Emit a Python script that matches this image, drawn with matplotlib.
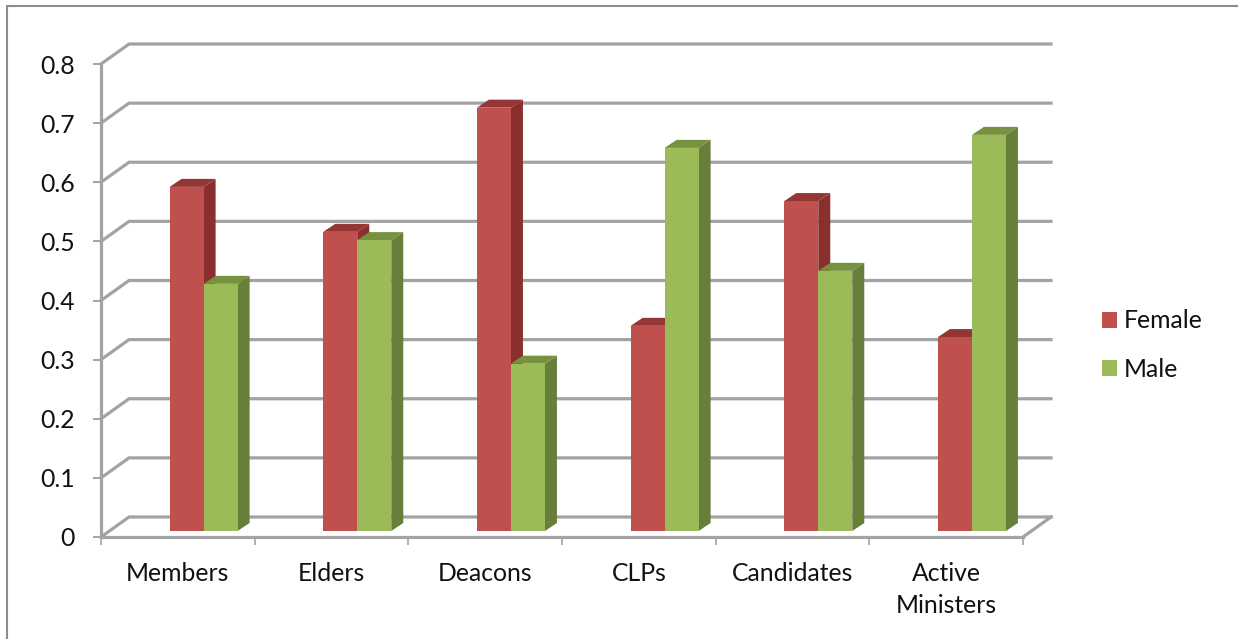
import matplotlib
matplotlib.use("Agg")
import matplotlib.pyplot as plt
from matplotlib.patches import Polygon, Patch

categories = ["Members", "Elders", "Deacons", "CLPs", "Candidates", "Active\nMinisters"]
female = [0.582, 0.506, 0.716, 0.347, 0.558, 0.328]
male = [0.418, 0.492, 0.283, 0.648, 0.44, 0.67]
y_ticks = [0, 0.1, 0.2, 0.3, 0.4, 0.5, 0.6, 0.7, 0.8]
y_labels = ["0", "0.1", "0.2", "0.3", "0.4", "0.5", "0.6", "0.7", "0.8"]

W, H = 1238, 639
GRID = "#A3A3A3"
plt.rcParams["font.family"] = ["Lato", "DejaVu Sans"]
FS = 17.8
fig = plt.figure(figsize=(W / 100, H / 100), dpi=100)
L, R, T, B = 101, 1023, 64, 537
ax = fig.add_axes([L / W, 1 - B / H, (R - L) / W, (B - T) / H])
ax.set_xlim(0, 6)
ax.set_ylim(0, 0.8)
ax.patch.set_alpha(0)

px_x = 6 / (R - L)
px_y = 0.8 / (B - T)
wall_dx, wall_dy = 28 * px_x, 20 * px_y
bar_dx, bar_dy = 12 * px_x, 8 * px_y
base = 6 * px_y
bar_w = 34 * px_x
start = 68.6 * px_x

# back wall and floor
for v in y_ticks:
    ax.plot([0, wall_dx, 6 + wall_dx], [v, v + wall_dy, v + wall_dy], color=GRID,
            lw=2.3, clip_on=False, zorder=1, solid_joinstyle="miter")
ax.plot([6 + wall_dx, 6], [wall_dy, 0], color=GRID, lw=2.3, clip_on=False, zorder=1)

series = [
    (female, "#C0504D", "#8A2F2D", "#933634", 0),
    (male, "#9BBB59", "#677F3A", "#76923F", 1),
]
z = 3
for i in range(len(categories)):
    for vals, col, side, top, k in series:
        x0 = i + start + k * bar_w
        x1 = x0 + bar_w
        h = base + vals[i]
        ax.add_patch(Polygon([(x1, base), (x1 + bar_dx, base + bar_dy),
                              (x1 + bar_dx, h + bar_dy), (x1, h)],
                             closed=True, fc=side, ec="none", zorder=z, clip_on=False))
        ax.add_patch(Polygon([(x0, h), (x0 + bar_dx, h + bar_dy),
                              (x1 + bar_dx, h + bar_dy), (x1, h)],
                             closed=True, fc=top, ec="none", zorder=z, clip_on=False))
        ax.bar(x0, vals[i], bottom=base, width=bar_w, align="edge", color=col,
               zorder=z + 1, clip_on=False)
        z += 2

for s in ("top", "right"):
    ax.spines[s].set_visible(False)
for s in ("left", "bottom"):
    ax.spines[s].set_color(GRID)
    ax.spines[s].set_linewidth(2.3)
    ax.spines[s].set_zorder(2)

ax.set_yticks(y_ticks)
ax.set_yticklabels(y_labels, fontsize=FS, color="#111111")
ax.tick_params(axis="y", length=6, width=1.4, color=GRID, pad=13)

ax.set_xticks(range(7))
ax.set_xticklabels([""] * 7)
ax.tick_params(axis="x", which="major", length=6, width=1.2, color=GRID)
ax.set_xticks([i + 0.5 for i in range(6)], minor=True)
ax.set_xticklabels(categories, minor=True, fontsize=FS, color="#111111", linespacing=1.47)
ax.tick_params(axis="x", which="minor", length=0, pad=18)

leg = fig.legend(
    handles=[Patch(fc="#C0504D", label="Female"), Patch(fc="#9BBB59", label="Male")],
    loc="center left", bbox_to_anchor=(1097 / W, 1 - 345 / H), frameon=False,
    fontsize=FS, handlelength=0.6, handleheight=0.6, handletextpad=0.28,
    labelspacing=1.02, borderpad=0.2, borderaxespad=0, labelcolor="#111111",
)

# outer frame of the picture
fig.add_artist(plt.Line2D([7 / W, 7 / W, 1], [0, 1 - 6 / H, 1 - 6 / H],
                          color="#8C8C8C", lw=1.5, transform=fig.transFigure,
                          solid_joinstyle="miter"))
fig.savefig("out.png", dpi=100, facecolor="white")
